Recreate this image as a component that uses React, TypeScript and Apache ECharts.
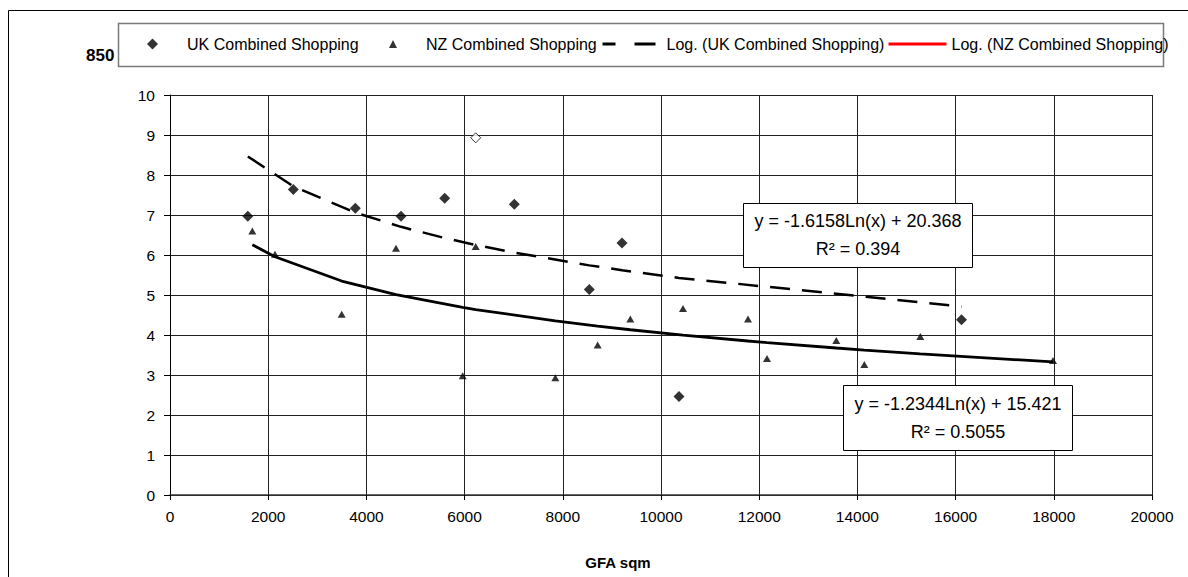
import React, { useEffect, useRef } from "react";
import * as echarts from "echarts";

// ---- data ----
const ukX = [1585, 2511, 3774, 4705, 5594, 6226, 7013, 8540, 9206, 10367, 16120];
const ukY = [6.97, 7.64, 7.17, 6.97, 7.42, 8.93, 7.27, 5.14, 6.3, 2.46, 4.38];
const ukHollow = [false, false, false, false, false, true, false, false, false, false, false];

const nzX = [1677, 2138, 3497, 4603, 5961, 6226, 7848, 8710, 9375, 10448, 11772, 12159, 13570, 14141, 15281, 17984];
const nzY = [6.6, 6.02, 4.52, 6.17, 2.98, 6.21, 2.93, 3.75, 4.4, 4.66, 4.4, 3.41, 3.86, 3.26, 3.96, 3.36];

// logarithmic trend lines as printed on the chart: [slope, intercept, R2]
const ukFit = [-1.6158, 20.368, 0.394];
const nzFit = [-1.2344, 15.421, 0.5055];

const seriesNames = [
  "UK Combined Shopping",
  "NZ Combined Shopping",
  "Log. (UK Combined Shopping)",
  "Log. (NZ Combined Shopping)",
];
const titleText = "850";
const xAxisName = "GFA sqm";
const xTicks = [0, 20000, 2000];
const yTicks = [0, 10, 1];

const FONT = '"Liberation Sans", Arial, sans-serif';

function trend(xs: number[], fit: number[]) {
  const sorted = [...xs].sort((a, b) => a - b);
  return sorted.map((x) => [x, fit[0] * Math.log(x) + fit[1]]);
}

function eqText(fit: number[]) {
  return `y = ${fit[0]}Ln(x) + ${fit[1]}\nR² = ${fit[2]}`;
}

export default function App() {
  const ref = useRef<HTMLDivElement>(null);
  useEffect(() => {
    if (!ref.current) return;
    const chart = echarts.init(ref.current, undefined, { renderer: "svg" });
    const baseText = { fontFamily: FONT, fontSize: 16, color: "#000" };
    const option: any = {
      animation: false,
      backgroundColor: "#fff",
      grid: { left: 170, top: 95, right: 36, bottom: 82, containLabel: false },
      xAxis: {
        type: "value",
        min: xTicks[0],
        max: xTicks[1],
        interval: xTicks[2],
        axisLine: { show: true, onZero: false, lineStyle: { color: "#333", width: 1.5 } },
        axisTick: { show: true, length: 5, lineStyle: { color: "#000" } },
        axisLabel: { margin: 13, color: "#000", fontFamily: FONT, fontSize: 15.5, formatter: (v: number) => String(v) },
        splitLine: { show: true, lineStyle: { color: "#222", width: 1 } },
      },
      yAxis: {
        type: "value",
        min: yTicks[0],
        max: yTicks[1],
        interval: yTicks[2],
        axisLine: { show: true, lineStyle: { color: "#000", width: 1 } },
        axisTick: { show: true, length: 6, lineStyle: { color: "#000" } },
        axisLabel: { margin: 15, color: "#000", fontFamily: FONT, fontSize: 15.5, formatter: (v: number) => String(v) },
        splitLine: { show: true, lineStyle: { color: "#222", width: 1 } },
      },
      legend: [
        {
          left: 147, top: 36, padding: 0, itemWidth: 11, itemHeight: 11,
          selectedMode: false, z: 20,
          data: [{ name: seriesNames[0], icon: "diamond" }],
          textStyle: { ...baseText, padding: [0, 0, 0, 24] },
        },
        {
          left: 389, top: 36, padding: 0, itemWidth: 8, itemHeight: 8,
          selectedMode: false, z: 20,
          data: [{ name: seriesNames[1], icon: "triangle" }],
          textStyle: { ...baseText, padding: [0, 0, 0, 24] },
        },
        {
          left: 601, top: 36, padding: 0, itemWidth: 53, itemHeight: 11,
          selectedMode: false, z: 20,
          data: [{
            name: seriesNames[2],
            lineStyle: { color: "#000", width: 3, type: [13, 19, 21, 5] },
            itemStyle: { opacity: 0 },
          }],
          textStyle: { ...baseText, padding: [0, 0, 0, 6] },
        },
        {
          left: 887, top: 36, padding: 0, itemWidth: 58, itemHeight: 11,
          selectedMode: false, z: 20,
          data: [{
            name: seriesNames[3],
            lineStyle: { color: "#ff0000", width: 3 },
            itemStyle: { opacity: 0 },
          }],
          textStyle: { ...baseText },
        },
      ],
      series: [
        {
          name: seriesNames[0],
          type: "scatter",
          symbol: "diamond",
          symbolSize: [11, 11],
          itemStyle: { color: "#000" },
          z: 4,
          data: ukX.map((x, i) =>
            ukHollow[i]
              ? { value: [x, ukY[i]], symbolSize: [10, 10], itemStyle: { color: "#fff", borderColor: "#000", borderWidth: 1 } }
              : { value: [x, ukY[i]] }
          ),
        },
        {
          name: seriesNames[1],
          type: "scatter",
          symbol: "triangle",
          symbolSize: [8, 7],
          itemStyle: { color: "#000" },
          z: 4,
          data: nzX.map((x, i) => [x, nzY[i]]),
        },
        {
          name: seriesNames[2],
          type: "line",
          symbol: "none",
          showSymbol: false,
          z: 3,
          lineStyle: { color: "#000", width: 2.5, type: [20, 12] },
          itemStyle: { color: "#000" },
          data: trend(ukX, ukFit),
        },
        {
          name: seriesNames[3],
          type: "line",
          symbol: "none",
          showSymbol: false,
          z: 3,
          lineStyle: { color: "#000", width: 2.8 },
          itemStyle: { color: "#000" },
          data: trend(nzX, nzFit),
        },
      ],
      graphic: [
        {
          type: "polyline",
          z: 1,
          shape: { points: [[8.5, 700], [8.5, 10.5], [1300, 10.5]] },
          style: { stroke: "#000", lineWidth: 1, fill: null },
          silent: true,
        },
        {
          type: "text",
          z: 5,
          x: 86,
          y: 55,
          style: { text: titleText, font: `bold 17px ${FONT}`, fill: "#000", verticalAlign: "middle", align: "left" },
        },
        {
          type: "rect",
          z: 10,
          shape: { x: 118.5, y: 23.5, width: 1045, height: 43 },
          style: { fill: "#fff", stroke: "#7a7a7a", lineWidth: 1.5 },
        },
        {
          type: "group",
          z: 30,
          children: [
            {
              type: "rect",
              z: 30,
              shape: { x: 743.5, y: 203.5, width: 229, height: 64 },
              style: { fill: "#fff", stroke: "#000", lineWidth: 1 },
            },
            {
              type: "text",
              z: 31,
              x: 858,
              y: 235,
              style: { text: eqText(ukFit), font: `18px ${FONT}`, fill: "#000", align: "center", verticalAlign: "middle", lineHeight: 28 },
            },
          ],
        },
        {
          type: "group",
          z: 30,
          children: [
            {
              type: "rect",
              z: 30,
              shape: { x: 843.5, y: 385.5, width: 229, height: 65 },
              style: { fill: "#fff", stroke: "#000", lineWidth: 1 },
            },
            {
              type: "text",
              z: 31,
              x: 958,
              y: 418,
              style: { text: eqText(nzFit), font: `18px ${FONT}`, fill: "#000", align: "center", verticalAlign: "middle", lineHeight: 28 },
            },
          ],
        },
        {
          type: "text",
          z: 5,
          x: 618,
          y: 562,
          style: { text: xAxisName, font: `bold 15px ${FONT}`, fill: "#000", align: "center", verticalAlign: "middle" },
        },
      ],
    };
    chart.setOption(option);
    return () => chart.dispose();
  }, []);
  return (
    <div
      ref={ref}
      style={{ position: "fixed", left: 0, top: 0, width: 1188, height: 577, background: "#fff" }}
    />
  );
}
